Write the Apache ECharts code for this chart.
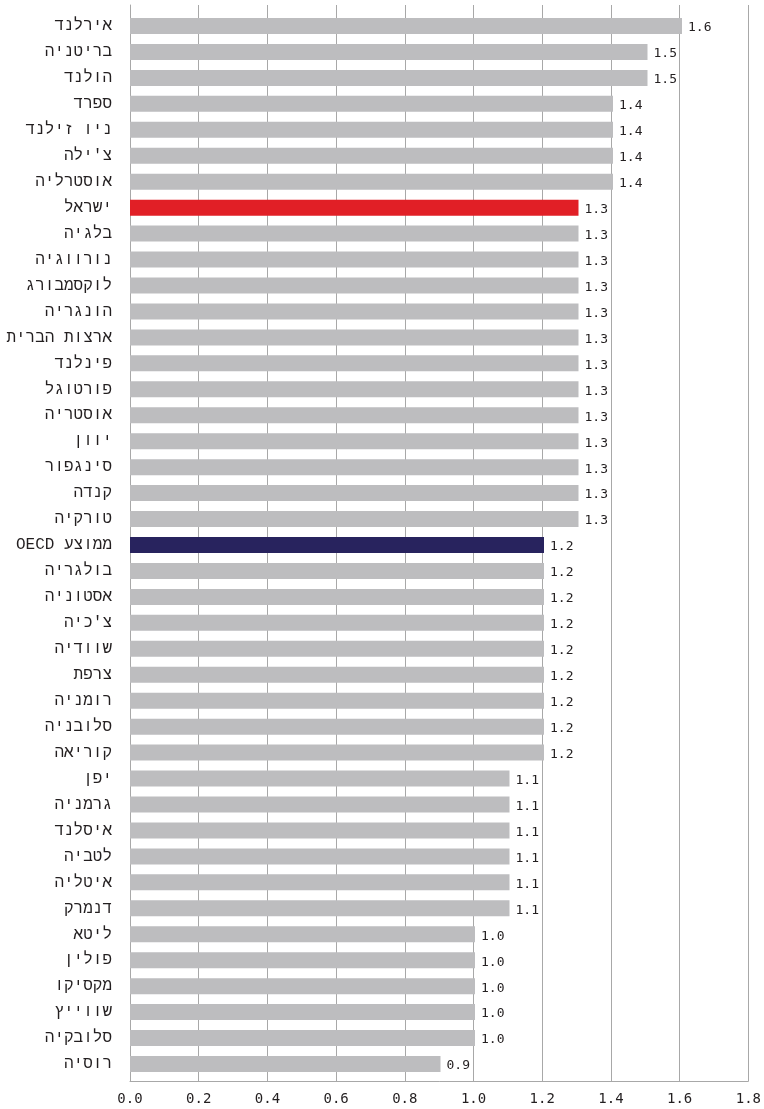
<!DOCTYPE html>
<html>
<head>
<meta charset="utf-8">
<script src="https://cdn.jsdelivr.net/npm/echarts@6/dist/echarts.min.js"></script>
<style>
html,body{margin:0;padding:0;background:#fff;}
#chart{width:764px;height:1109px;direction:rtl;}
</style>
</head>
<body>
<div id="chart"></div>
<script>
const categories = ["אירלנד","בריטניה","הולנד","ספרד","ניו זילנד","צ'ילה","אוסטרליה","ישראל","בלגיה","נורווגיה","לוקסמבורג","הונגריה","ארצות הברית","פינלנד","פורטוגל","אוסטריה","יוון","סינגפור","קנדה","טורקיה","ממוצע OECD","בולגריה","אסטוניה","צ'כיה","שוודיה","צרפת","רומניה","סלובניה","קוריאה","יפן","גרמניה","איסלנד","לטביה","איטליה","דנמרק","ליטא","פולין","מקסיקו","שווייץ","סלובקיה","רוסיה"];
const values = [1.6,1.5,1.5,1.4,1.4,1.4,1.4,1.3,1.3,1.3,1.3,1.3,1.3,1.3,1.3,1.3,1.3,1.3,1.3,1.3,1.2,1.2,1.2,1.2,1.2,1.2,1.2,1.2,1.2,1.1,1.1,1.1,1.1,1.1,1.1,1.0,1.0,1.0,1.0,1.0,0.9];
const highlight = {"ישראל":"#E11F26","ממוצע OECD":"#28235E"};
const xTicks = [0,0.2,0.4,0.6,0.8,1.0,1.2,1.4,1.6,1.8];

const chart = echarts.init(document.getElementById('chart'));
const gridColor = '#A8A8A8';
const font = 'Liberation Mono';
const numFont = 'DejaVu Sans Mono';
chart.setOption({
  animation:false,
  backgroundColor:'#fff',
  grid:[
    {left:130,right:13,top:5,bottom:28},
    {left:130,right:13,top:13,bottom:32}
  ],
  xAxis:[
    {type:'value',gridIndex:0,min:xTicks[0],max:xTicks[xTicks.length-1],interval:0.2,
     axisLine:{show:true,lineStyle:{color:gridColor,width:1}},
     axisTick:{show:false},
     splitLine:{show:true,lineStyle:{color:gridColor,width:1}},
     axisLabel:{color:'#231F20',fontSize:14,fontFamily:numFont,margin:11,
       formatter:v=>v.toFixed(1)}},
    {type:'value',gridIndex:1,min:xTicks[0],max:xTicks[xTicks.length-1],show:false}
  ],
  yAxis:[
    {type:'value',gridIndex:0,min:0,max:1,
     axisLine:{show:true,lineStyle:{color:gridColor,width:1}},
     axisTick:{show:false},axisLabel:{show:false},splitLine:{show:false}},
    {type:'category',gridIndex:1,data:categories,inverse:true,
     axisLine:{show:false},axisTick:{show:false},
     axisLabel:{color:'#231F20',fontSize:16,fontFamily:font,margin:18,interval:0,
       formatter:v=>'\u202B'+v+'\u202C'}}
  ],
  series:[{
    type:'bar',xAxisIndex:1,yAxisIndex:1,barWidth:16,
    data:values.map((v,i)=>({value:v,itemStyle:{color:highlight[categories[i]]||'#BDBDBF'}})),
    label:{show:true,position:'right',distance:6,color:'#231F20',fontSize:13,
      fontFamily:numFont,offset:[0,2],formatter:p=>p.value.toFixed(1)}
  }]
});
</script>
</body>
</html>
